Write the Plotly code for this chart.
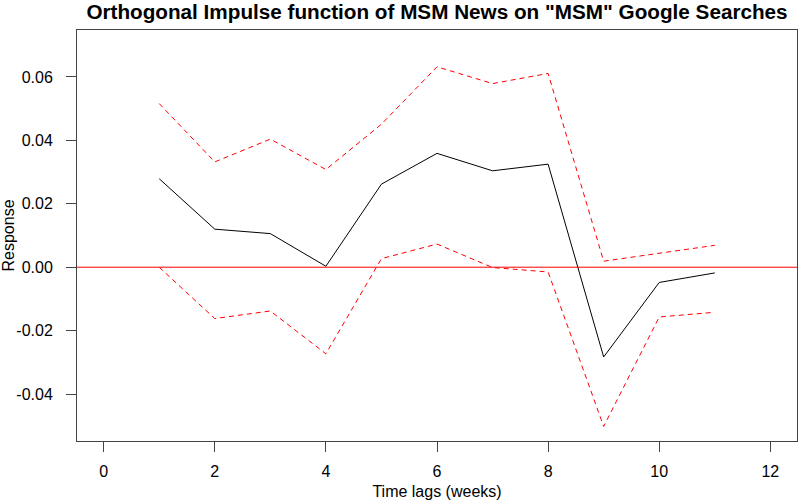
import plotly.graph_objects as go

lags = [1, 2, 3, 4, 5, 6, 7, 8, 9, 10, 11]
response = [0.0279, 0.0120, 0.0106, 0.0003, 0.0262, 0.0359, 0.0304, 0.0325, -0.0283, -0.0048, -0.0018]
upper = [0.0516, 0.0332, 0.0404, 0.0308, 0.0451, 0.0632, 0.0579, 0.0611, 0.0019, 0.0043, 0.0069]
lower = [0.0000, -0.0162, -0.0138, -0.0273, 0.0027, 0.0073, -0.0001, -0.0015, -0.0502, -0.0157, -0.0142]

x_ticks = [0, 2, 4, 6, 8, 10, 12]
y_ticks = [-0.04, -0.02, 0.00, 0.02, 0.04, 0.06]
y_ticktext = ["-0.04", "-0.02", "0.00", "0.02", "0.04", "0.06"]

FONT = "Liberation Sans, Arial, sans-serif"

fig = go.Figure()
fig.add_trace(go.Scatter(x=lags, y=response, mode="lines",
                         line=dict(color="black", width=1), showlegend=False))
fig.add_trace(go.Scatter(x=lags, y=upper, mode="lines",
                         line=dict(color="red", width=1, dash="5px,4px"), showlegend=False))
fig.add_trace(go.Scatter(x=lags, y=lower, mode="lines",
                         line=dict(color="red", width=1, dash="5px,4px"), showlegend=False))

fig.add_shape(type="line", xref="paper", yref="y", x0=0, x1=1, y0=0, y1=0,
              line=dict(color="red", width=1))

fig.update_layout(
    width=800, height=502,
    margin=dict(l=77, r=3, t=30, b=61),
    paper_bgcolor="white", plot_bgcolor="white",
    font=dict(family=FONT, size=16, color="black"),
    title=dict(text='<b>Orthogonal Impulse function of MSM News on "MSM" Google Searches</b>',
               x=437 / 800, xanchor="center", y=1 - 12 / 502, yanchor="middle",
               font=dict(family=FONT, size=20.7, color="black")),
    xaxis=dict(range=[-0.48, 12.48], tickvals=x_ticks, ticks="outside", ticklen=10,
               tickcolor="#444", ticklabelstandoff=6,
               showline=True, linecolor="#444", linewidth=1, mirror=True,
               showgrid=False, zeroline=False, automargin=False,
               title=dict(text="Time lags (weeks)", standoff=6, font=dict(size=16))),
    yaxis=dict(range=[-0.0548, 0.0748], tickvals=y_ticks, ticktext=y_ticktext,
               ticks="outside", ticklen=10, tickcolor="#444", ticklabelstandoff=10,
               showline=True, linecolor="#444", linewidth=1, mirror=True,
               showgrid=False, zeroline=False, automargin=False,
               title=dict(text="Response", standoff=4, font=dict(size=16))),
)

fig.write_html("out.html", config={"displayModeBar": False},
               post_script="document.body.style.margin='0';document.body.style.overflow='hidden';")
